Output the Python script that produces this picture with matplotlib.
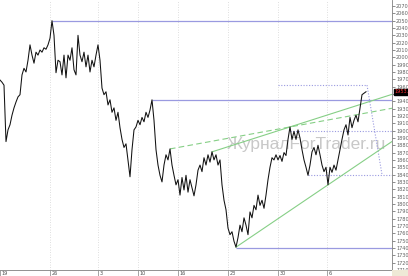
import matplotlib
matplotlib.use("Agg")
import matplotlib.pyplot as plt
import matplotlib.transforms as mtransforms
from matplotlib.patches import Rectangle

# ---- data (close prices, one value every 2 chart pixels) ----
prices = [
    1969, 1966, 1962, 1885, 1901, 1908, 1921, 1931, 1939, 1946,
    1949, 1976, 1985, 1980, 1996, 2017, 2003, 1992, 2007, 2003,
    2010, 2007, 2013, 2011, 2017, 2026, 2050, 2030, 1979, 1996,
    1994, 1976, 2003, 1972, 2003, 1996, 2013, 1983, 1976, 2030,
    2003, 1994, 2007, 1987, 2003, 1980, 1996, 1987, 2003, 2017,
    1996, 1958, 1949, 1953, 1935, 1942, 1925, 1931, 1914, 1925,
    1904, 1888, 1877, 1882, 1860, 1837, 1874, 1901, 1905, 1914,
    1908, 1918, 1912, 1925, 1918, 1928, 1942, 1914, 1874, 1853,
    1839, 1830, 1853, 1867, 1860, 1875, 1853, 1839, 1826, 1833,
    1812, 1836, 1819, 1839, 1816, 1833, 1822, 1811, 1826, 1846,
    1853, 1844, 1863, 1853, 1867, 1857, 1871, 1860, 1867, 1853,
    1860, 1826, 1805, 1792, 1767, 1758, 1762, 1749, 1741, 1754,
    1771, 1762, 1781, 1771, 1758, 1789, 1781, 1798, 1792, 1812,
    1798, 1805, 1794, 1812, 1833, 1850, 1863, 1860, 1867, 1860,
    1866, 1858, 1870, 1866, 1888, 1905, 1888, 1899, 1888, 1901,
    1890, 1874, 1860, 1850, 1839, 1853, 1871, 1877, 1867, 1880,
    1867, 1853, 1844, 1850, 1826, 1850, 1843, 1853, 1846, 1860,
    1874, 1888, 1901, 1908, 1894, 1918, 1904, 1914, 1921, 1912,
    1931, 1949, 1951, 1953,
]
date_labels = ["19", "26", "3", "10", "16", "23", "30", "6"]
date_bars = [0, 25, 49, 69, 89, 114, 139, 163.5]
price_ticks = list(range(1710, 2071, 10))

# horizontal support/resistance levels and the bar they start from
res_levels = [2050, 1942, 1740]
res_start = [26, 76, 118]
# dotted levels
fib_levels = [1962, 1900, 1840]
fib_start = [139, 145, 154]
fib_top_end = 183.5
fib_diag_end = 191
# trend lines: (bar1, bar2) anchors on price points
trend_dashed = (85, 145)
trend_upper = (106, 145)
trend_lower = ((118, 1741), (164, 1826))

XMAX = 196
YMIN, YMAX = 1709.8, 2078.2

W, H = 408, 276
fig = plt.figure(figsize=(W / 100, H / 100), dpi=100)
fig.patch.set_facecolor("white")
ax = fig.add_axes([0, 6 / H, 392 / W, 270 / H])
ax.set_facecolor("white")
ax.set_xlim(0, XMAX)
ax.set_ylim(YMIN, YMAX)

grid_c = "#d4d4d4"
lvl_c = "#9a9ae0"
green_c = "#86cf86"

# vertical grid
for b in date_bars[1:]:
    ax.axvline(b, color=grid_c, lw=0.6, ls=(0, (1, 2)), zorder=0)

# watermark
ax.text(113.5, 1875, "ЖурналForTrader.ru", fontsize=12.5, color="#c8c8c8",
        family=["Liberation Sans", "DejaVu Sans"], ha="left", va="baseline", zorder=1)

# horizontal levels
for lv, st in zip(res_levels, res_start):
    ax.plot([st, XMAX], [lv, lv], color=lvl_c, lw=0.9, zorder=2, solid_capstyle="butt")

# dotted levels
ax.plot([fib_start[0], fib_top_end], [fib_levels[0], fib_levels[0]],
        color=lvl_c, lw=0.8, ls=(0, (1, 1.5)), zorder=2)
for lv, st in zip(fib_levels[1:], fib_start[1:]):
    ax.plot([st, XMAX], [lv, lv], color=lvl_c, lw=0.8, ls=(0, (1, 1.5)), zorder=2)
ax.plot([fib_top_end, fib_diag_end], [fib_levels[0], fib_levels[2]],
        color=lvl_c, lw=0.8, ls=(0, (1, 1.5)), zorder=2)

# trend lines (rays to right edge)
def ray(p1, p2, **kw):
    (x1, y1), (x2, y2) = p1, p2
    s = (y2 - y1) / (x2 - x1)
    ax.plot([x1, XMAX], [y1, y1 + s * (XMAX - x1)], **kw)

b1, b2 = trend_dashed
ray((b1, prices[b1]), (b2, prices[b2]), color=green_c, lw=0.8, ls=(0, (5, 3)), zorder=2)
b1, b2 = trend_upper
ray((b1, prices[b1]), (b2, prices[b2]), color=green_c, lw=0.8, zorder=2)
ray(trend_lower[0], trend_lower[1], color=green_c, lw=0.8, zorder=2)

# price line
ax.plot(range(len(prices)), prices, color="#111111", lw=0.75, zorder=3)

# axes styling
for s in ["top", "left"]:
    ax.spines[s].set_visible(False)
ax.spines["right"].set_color("#808080")
ax.spines["bottom"].set_color("#808080")
ax.spines["right"].set_linewidth(0.6)
ax.spines["bottom"].set_linewidth(0.6)

ax.yaxis.tick_right()
ax.set_yticks(price_ticks)
ax.set_yticklabels([str(t) for t in price_ticks])
ax.tick_params(axis="y", length=2, width=0.5, color="#606060", pad=1,
               labelsize=3.6, labelcolor="#606060")
ax.set_xticks(date_bars)
ax.set_xticklabels([])
ax.tick_params(axis="x", length=6, width=0.5, color="#808080", direction="out")

trans = mtransforms.blended_transform_factory(ax.transData, ax.transAxes)
for b, lab in zip(date_bars, date_labels):
    ax.text(b + 0.6, -0.004, lab, transform=trans, fontsize=3.6, color="#505050",
            ha="left", va="top")

# current price label
ax.text(1.006, prices[-1], f"{prices[-1]:.2f}", transform=ax.get_yaxis_transform(),
        fontsize=3.6, color="#ff3030", ha="left", va="center",
        bbox=dict(boxstyle="square,pad=0.15", fc="black", ec="black"), zorder=5)

# bottom-right corner box
fig.patches.append(Rectangle((392 / W, 0), 16 / W, 6 / H, transform=fig.transFigure,
                             fc="#efe9d6", ec="none"))

fig.savefig("out.png", dpi=100, facecolor="white")
